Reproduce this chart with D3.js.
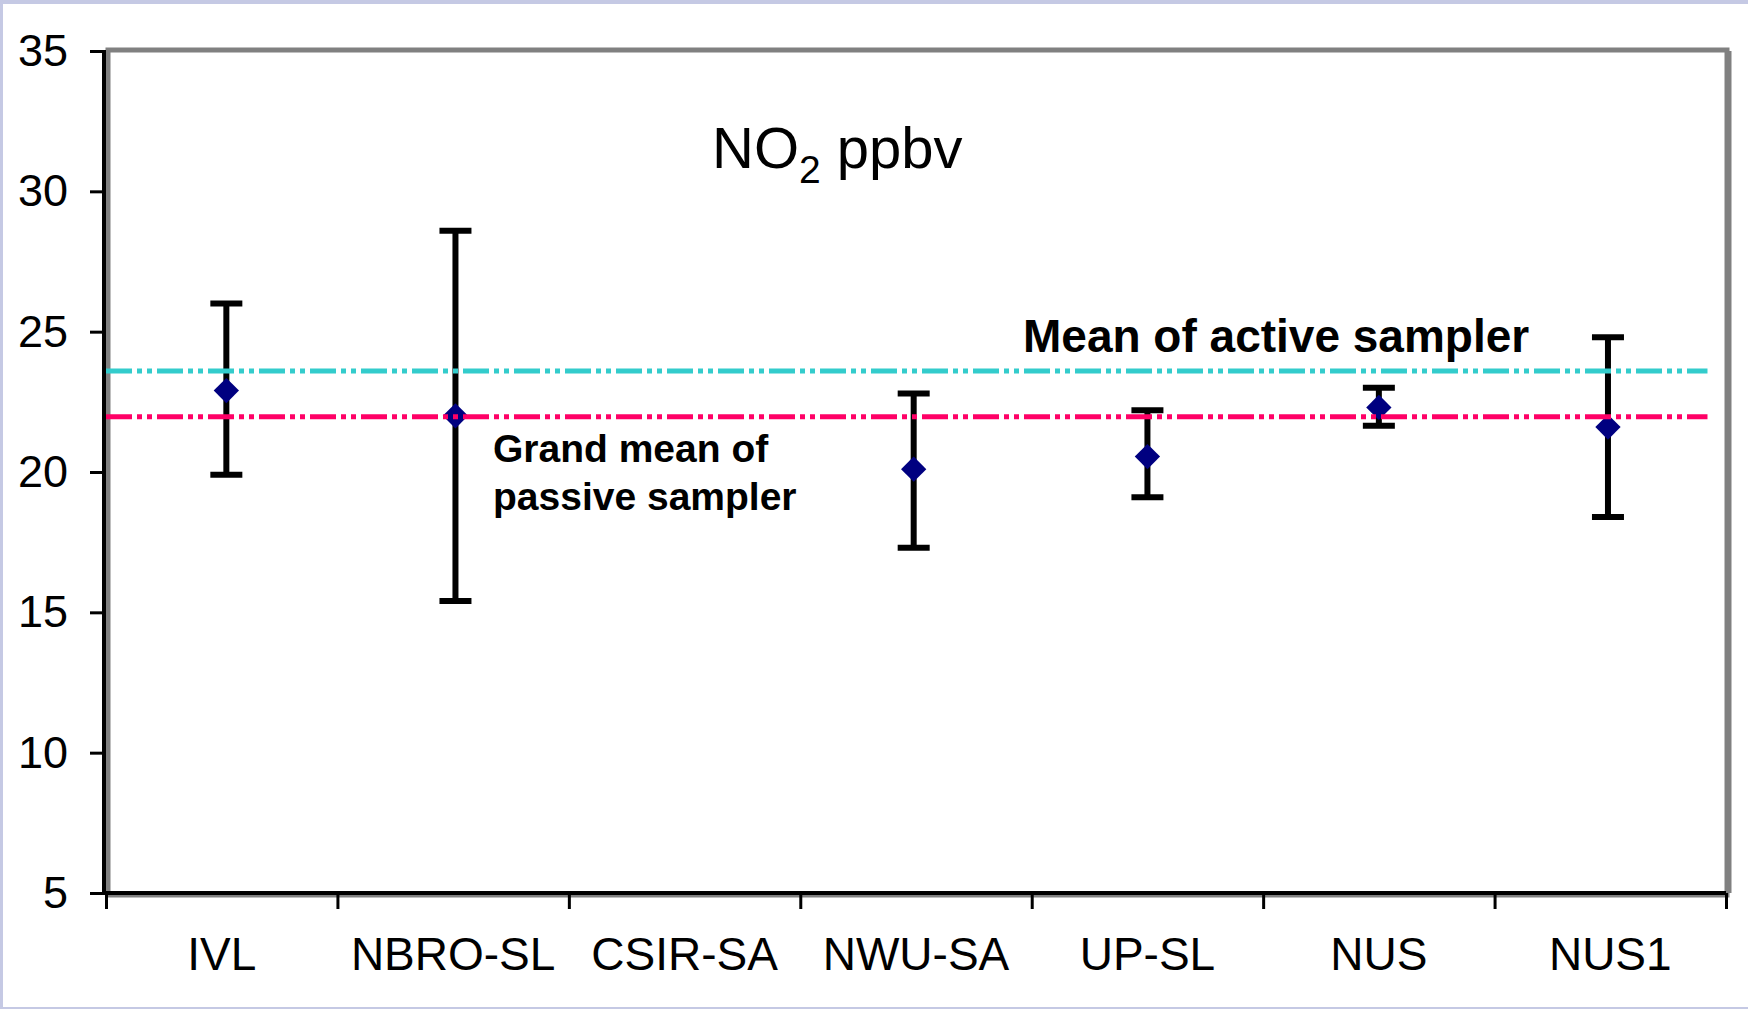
<!DOCTYPE html>
<html>
<meta charset="utf-8">
<head>
  <title>NO2 ppbv</title>
  <script src="https://d3js.org/d3.v7.min.js"></script>
  <style>
    body { margin: 0; background: #fff; }
    text { font-family: "Liberation Sans", Arial, sans-serif; fill: #000; }
  </style>
</head>
<body>
<div id="my_dataviz"></div>
<script>

// categories on the x axis
var categories = ["IVL", "NBRO-SL", "CSIR-SA", "NWU-SA", "UP-SL", "NUS", "NUS1"];

// samplers plotted (position along the category axis, in category units)
var samplers = ["IVL", "NBRO-SL", "NWU-SA", "UP-SL", "NUS", "NUS1"];
var pointPos = [0.52, 1.51, 3.49, 4.5, 5.5, 6.49];
var meanValues = [22.9, 22.0, 20.1, 20.55, 22.3, 21.6];
var upperValues = [26.0, 28.6, 22.8, 22.2, 23.0, 24.8];
var lowerValues = [19.9, 15.4, 17.3, 19.1, 21.65, 18.4];

// reference lines
var activeMean = 23.6;
var passiveMean = 21.97;
var refSpan = [0, 6.92];

var yTicks = [5, 10, 15, 20, 25, 30, 35];

var W = 1748, H = 1009;
var margin = {top: 51, right: 22, bottom: 116, left: 106};

var svg = d3.select("#my_dataviz").append("svg")
    .attr("width", W)
    .attr("height", H);

// lavender frame of the slide
svg.append("rect").attr("x", 0).attr("y", 0).attr("width", W).attr("height", 4).attr("fill", "#c5c9e4");
svg.append("rect").attr("x", 0).attr("y", 0).attr("width", 3).attr("height", H).attr("fill", "#c5c9e4");
svg.append("rect").attr("x", 0).attr("y", H - 2).attr("width", W).attr("height", 2).attr("fill", "#c5c9e4");

var x = d3.scaleLinear()
    .domain([0, categories.length])
    .range([margin.left, W - margin.right]);

var y = d3.scaleLinear()
    .domain([5, 35])
    .range([H - margin.bottom, margin.top]);

// gray plot-area border
svg.append("rect")
    .attr("x", x(0) + 2)
    .attr("y", y(35) - 1)
    .attr("width", x(7) - x(0) - 1)
    .attr("height", y(5) - y(35) + 3)
    .attr("fill", "none")
    .attr("stroke", "#808080")
    .attr("stroke-width", 5);
svg.append("line")
    .attr("x1", x(7) + 3).attr("x2", x(7) + 3)
    .attr("y1", y(35)).attr("y2", y(5))
    .attr("stroke", "#808080")
    .attr("stroke-width", 5);

// y axis
var yAxis = svg.append("g")
    .attr("transform", "translate(" + (x(0) - 2) + ",0)")
    .call(d3.axisLeft(y).tickValues(yTicks).tickSize(14).tickPadding(22).tickFormat(d3.format("d")));
yAxis.select(".domain").attr("stroke", "#000").attr("stroke-width", 4).attr("d", "M0," + (y(35) - 1) + "V" + (y(5) + 2));
yAxis.selectAll(".tick line").attr("stroke", "#000").attr("stroke-width", 3);
yAxis.selectAll(".tick text")
    .style("font-family", "'Liberation Sans', Arial, sans-serif")
    .style("font-size", "45px")
    .attr("fill", "#000");

// x axis (ticks at category boundaries)
var xAxis = svg.append("g")
    .attr("transform", "translate(0," + y(5) + ")")
    .call(d3.axisBottom(x).tickValues(d3.range(categories.length + 1)).tickSize(16).tickFormat(""));
xAxis.select(".domain").attr("stroke", "#000").attr("stroke-width", 4).attr("d", "M" + (x(0) - 4) + ",0H" + x(7));
xAxis.selectAll(".tick line").attr("stroke", "#000").attr("stroke-width", 3);

svg.append("g")
  .selectAll("text")
  .data(categories)
  .enter().append("text")
    .attr("x", function(d, i) { return x(i + 0.5); })
    .attr("y", y(5) + 77)
    .attr("text-anchor", "middle")
    .style("font-size", "46px")
    .text(function(d) { return d; });

// error bars + points
var rows = samplers.map(function(s, i) {
  return {name: s, pos: pointPos[i], mean: meanValues[i], hi: upperValues[i], lo: lowerValues[i]};
});

var bars = svg.append("g").selectAll("g")
  .data(rows)
  .enter().append("g");

bars.append("line")
    .attr("x1", function(d) { return x(d.pos); })
    .attr("x2", function(d) { return x(d.pos); })
    .attr("y1", function(d) { return y(d.hi); })
    .attr("y2", function(d) { return y(d.lo); })
    .attr("stroke", "#000")
    .attr("stroke-width", 6);

bars.selectAll(".cap")
  .data(function(d) { return [{pos: d.pos, v: d.hi}, {pos: d.pos, v: d.lo}]; })
  .enter().append("line")
    .attr("class", "cap")
    .attr("x1", function(d) { return x(d.pos) - 16; })
    .attr("x2", function(d) { return x(d.pos) + 16; })
    .attr("y1", function(d) { return y(d.v); })
    .attr("y2", function(d) { return y(d.v); })
    .attr("stroke", "#000")
    .attr("stroke-width", 6);

bars.append("path")
    .attr("d", d3.symbol().type(d3.symbolSquare).size(320))
    .attr("transform", function(d) { return "translate(" + x(d.pos) + "," + y(d.mean) + ") rotate(45)"; })
    .attr("fill", "#000080");

// mean lines, dash-dot-dot
svg.append("line")
    .attr("x1", x(refSpan[0])).attr("x2", x(refSpan[1]))
    .attr("y1", y(activeMean)).attr("y2", y(activeMean))
    .attr("stroke", "#33cccc")
    .attr("stroke-width", 5)
    .attr("stroke-dasharray", "26,5,5,5,5,5");

svg.append("line")
    .attr("x1", x(refSpan[0])).attr("x2", x(refSpan[1]))
    .attr("y1", y(passiveMean)).attr("y2", y(passiveMean))
    .attr("stroke", "#ff0066")
    .attr("stroke-width", 5)
    .attr("stroke-dasharray", "26,5,5,5,5,5");

// annotations
svg.append("text")
    .attr("x", 1023)
    .attr("y", 352)
    .style("font-size", "46px")
    .style("font-weight", "bold")
    .text("Mean of active sampler");

var g2 = svg.append("text")
    .attr("x", 493)
    .attr("y", 462)
    .style("font-size", "39px")
    .style("font-weight", "bold");
g2.append("tspan").attr("x", 493).text("Grand mean of");
g2.append("tspan").attr("x", 493).attr("dy", 48).text("passive sampler");

// title
var title = svg.append("text")
    .attr("x", 712)
    .attr("y", 168)
    .style("font-size", "58px");
title.append("tspan").text("NO");
title.append("tspan").attr("dy", 15).style("font-size", "39px").text("2");
title.append("tspan").attr("dy", -15).text(" ppbv");

</script>
</body>
</html>
